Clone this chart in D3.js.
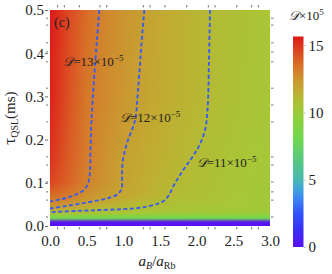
<!DOCTYPE html>
<html>
<head>
<meta charset="utf-8">
<script src="https://cdn.jsdelivr.net/npm/d3@7"></script>
<style>
  body { margin: 0; background: #fff; }
  svg { display: block; font-family: "Liberation Serif", "Times New Roman", serif; }
</style>
</head>
<body>
<div id="chart"></div>
<script>
// grid: D x 10^5 at (a_B/a_Rb, tau_QSL)
const aGrid = [0, 0.25, 0.5, 0.75, 1, 1.25, 1.5, 1.75, 2, 2.25, 2.5, 2.75, 3];
const tauGrid = [0.5, 0.3, 0.2, 0.15, 0.1, 0.07, 0.055, 0.04, 0.03, 0.024, 0.018, 0.009, 0];
const dGrid = [
  [15.6, 14.5, 13.6, 12.9, 12.5, 12.1, 11.75, 11.45, 11.2, 10.95, 10.8, 10.65, 10.5],
  [15.4, 14.3, 13.25, 12.8, 12.4, 11.95, 11.65, 11.4, 11.15, 10.9, 10.75, 10.6, 10.45],
  [15.2, 14.1, 13.2, 12.6, 12.2, 11.8, 11.5, 11.25, 11.0, 10.8, 10.65, 10.5, 10.4],
  [15.0, 14.0, 13.15, 12.55, 12.0, 11.7, 11.4, 11.15, 10.95, 10.75, 10.6, 10.45, 10.35],
  [14.6, 13.8, 13.0, 12.45, 11.95, 11.6, 11.3, 11.0, 10.85, 10.7, 10.55, 10.4, 10.3],
  [13.6, 13.2, 12.6, 12.1, 11.8, 11.5, 11.15, 10.95, 10.8, 10.65, 10.5, 10.4, 10.3],
  [13.0, 12.6, 12.05, 11.7, 11.35, 11.1, 10.9, 10.75, 10.65, 10.55, 10.45, 10.35, 10.25],
  [12.0, 11.7, 11.35, 11.05, 10.9, 10.8, 10.7, 10.6, 10.5, 10.4, 10.35, 10.3, 10.2],
  [10.9, 10.8, 10.7, 10.6, 10.5, 10.45, 10.4, 10.35, 10.3, 10.25, 10.2, 10.15, 10.1],
  [9.3, 9.3, 9.25, 9.25, 9.2, 9.2, 9.15, 9.15, 9.1, 9.1, 9.05, 9.05, 9.0],
  [8.3, 8.3, 8.25, 8.25, 8.2, 8.2, 8.15, 8.15, 8.1, 8.1, 8.05, 8.05, 8.0],
  [0.3, 0.3, 0.3, 0.3, 0.3, 0.3, 0.3, 0.3, 0.3, 0.3, 0.3, 0.3, 0.3],
  [0, 0, 0, 0, 0, 0, 0, 0, 0, 0, 0, 0, 0]
];

// dashed contour lines [a, tau]
const contour13 = [[0.672, 0.5], [0.641, 0.431], [0.600, 0.338], [0.566, 0.245], [0.552, 0.176],
  [0.545, 0.125], [0.525, 0.102], [0.477, 0.086], [0.395, 0.076], [0.300, 0.069], [0.164, 0.0625], [0, 0.057]];
const contour12 = [[1.286, 0.5], [1.241, 0.407], [1.200, 0.315], [1.159, 0.245], [1.050, 0.192],
  [0.995, 0.153], [0.982, 0.118], [0.978, 0.088], [0.927, 0.074], [0.818, 0.066], [0.682, 0.060],
  [0.450, 0.053], [0.205, 0.046], [0, 0.0405]];
const contour11 = [[2.182, 0.5], [2.168, 0.384], [2.148, 0.269], [2.114, 0.222], [2.032, 0.185],
  [1.950, 0.162], [1.855, 0.139], [1.773, 0.118], [1.691, 0.095], [1.623, 0.072], [1.568, 0.060],
  [1.473, 0.052], [1.255, 0.043], [0.995, 0.039], [0.682, 0.037], [0.382, 0.035], [0, 0.032]];
const contourLabels = [
  {text: "13", a: 0.18, tau: 0.371},
  {text: "12", a: 0.955, tau: 0.241},
  {text: "11", a: 2.0, tau: 0.137}
];

const xTicks = [0, 0.5, 1, 1.5, 2, 2.5, 3];
const yTicks = [0, 0.1, 0.2, 0.3, 0.4, 0.5];
const xMinor = [0.105, 0.195, 0.40, 0.682, 0.773, 1.273, 1.364, 1.568, 1.864, 2.159, 2.25, 2.546, 2.75, 2.84];
const yMinor = [0.481, 0.465, 0.424, 0.403, 0.380, 0.319, 0.280, 0.241, 0.160, 0.141, 0.102, 0.079, 0.060, 0.021];
const cbTicks = [0, 5, 10, 15];

// colour map of the bar
const cStops = [0, 1.2, 2.4, 3.5, 4.2, 5, 6.5, 8, 9.5, 10.5, 11.5, 12.5, 13.5, 14.5, 15.65];
const cColors = ["#5c10f0", "#3c2cf8", "#3050ff", "#3c80f5", "#40a0e0", "#48b8b0", "#58c880",
  "#70d850", "#8cd03e", "#a8c636", "#c0ae32", "#cc9430", "#d87028", "#dc4822", "#dc1818"];

const color = d3.scaleLinear().domain(cStops).range(cColors).interpolate(d3.interpolateRgb).clamp(true);

const svg = d3.select("#chart").append("svg")
  .attr("width", 332).attr("height", 274);

const x = d3.scaleLinear().domain([0, 3]).range([50, 270]);
const y = d3.scaleLinear().domain([0, 0.5]).range([226, 10]);

// heat map, colours blended between grid nodes
const W = 220, H = 216;
const cvs = document.createElement("canvas");
cvs.width = W; cvs.height = H;
const ctx = cvs.getContext("2d");
const img = ctx.createImageData(W, H);
const nodeCol = dGrid.map(row => row.map(v => d3.rgb(color(v))));
const aIdx = d3.scaleLinear().domain(aGrid).range(d3.range(aGrid.length)).clamp(true);
const tIdx = d3.scaleLinear().domain(tauGrid).range(d3.range(tauGrid.length)).clamp(true);
for (let py = 0; py < H; py++) {
  const fj = tIdx(y.invert(10 + py + 0.5));
  const j0 = Math.min(Math.floor(fj), tauGrid.length - 2), tj = fj - j0;
  for (let px = 0; px < W; px++) {
    const fi = aIdx(x.invert(50 + px + 0.5));
    const i0 = Math.min(Math.floor(fi), aGrid.length - 2), ti = fi - i0;
    const c00 = nodeCol[j0][i0], c01 = nodeCol[j0][i0 + 1],
          c10 = nodeCol[j0 + 1][i0], c11 = nodeCol[j0 + 1][i0 + 1];
    const k = (py * W + px) * 4;
    ["r", "g", "b"].forEach((ch, n) => {
      const top = c00[ch] * (1 - ti) + c01[ch] * ti;
      const bot = c10[ch] * (1 - ti) + c11[ch] * ti;
      img.data[k + n] = top * (1 - tj) + bot * tj;
    });
    img.data[k + 3] = 255;
  }
}
ctx.putImageData(img, 0, 0);
svg.append("image")
  .attr("x", 50).attr("y", 10).attr("width", W).attr("height", H)
  .attr("preserveAspectRatio", "none")
  .attr("href", cvs.toDataURL());

svg.append("clipPath").attr("id", "plotclip")
  .append("rect").attr("x", 50).attr("y", 10).attr("width", 220).attr("height", 216);

const line = d3.line().x(d => x(d[0])).y(d => y(d[1])).curve(d3.curveCatmullRom);
svg.append("g").attr("clip-path", "url(#plotclip)")
  .selectAll("path")
  .data([contour13, contour12, contour11])
  .enter().append("path")
  .attr("d", line)
  .attr("fill", "none")
  .attr("stroke", "#3a5cf0")
  .attr("stroke-width", 1.9)
  .attr("stroke-dasharray", "4,2.5");

// contour labels
contourLabels.forEach(l => {
  const t = svg.append("text")
    .attr("x", x(l.a)).attr("y", y(l.tau))
    .attr("font-size", 13).attr("fill", "#222");
  t.append("tspan").attr("font-style", "italic").text("\u{1D49F}");
  t.append("tspan").text("=" + l.text + "\u00D710");
  t.append("tspan").attr("font-size", 9).attr("dy", -5).text("\u22125");
});

svg.append("text").attr("x", 54).attr("y", 27).attr("font-size", 14).attr("fill", "#222").text("(c)");

// axes
const xAxis = svg.append("g").attr("transform", "translate(0,226)")
  .call(d3.axisBottom(x).tickValues(xTicks).tickFormat(d3.format(".1f")).tickSize(0).tickPadding(9));
xAxis.select(".domain").remove();
xAxis.selectAll("text").attr("font-size", 15).attr("font-family", "Liberation Serif").attr("fill", "#222");

const yAxis = svg.append("g").attr("transform", "translate(48,0)")
  .call(d3.axisLeft(y).tickValues(yTicks).tickFormat(d3.format(".1f")).tickSize(3).tickPadding(1));
yAxis.select(".domain").remove();
yAxis.selectAll("line").attr("stroke", "#444").attr("stroke-width", 0.8);
yAxis.selectAll("text").attr("font-size", 15).attr("font-family", "Liberation Serif").attr("fill", "#222");

// small frame ticks
const tk = svg.append("g").attr("stroke", "#555").attr("stroke-width", 0.8);
xMinor.forEach(v => {
  tk.append("line").attr("x1", x(v)).attr("x2", x(v)).attr("y1", 227).attr("y2", 229.5);
  tk.append("line").attr("x1", x(v)).attr("x2", x(v)).attr("y1", 5).attr("y2", 7.5);
});
yMinor.forEach(v => {
  tk.append("line").attr("x1", 271).attr("x2", 273.5).attr("y1", y(v)).attr("y2", y(v));
  tk.append("line").attr("x1", 46).attr("x2", 48).attr("y1", y(v)).attr("y2", y(v));
});

// axis titles
const xt = svg.append("text").attr("x", 157).attr("y", 266).attr("text-anchor", "middle")
  .attr("font-size", 15).attr("fill", "#222");
xt.append("tspan").attr("font-style", "italic").text("a");
xt.append("tspan").attr("font-style", "italic").attr("font-size", 10).attr("dy", 3).text("B");
xt.append("tspan").attr("dy", -3).text("/");
xt.append("tspan").attr("font-style", "italic").text("a");
xt.append("tspan").attr("font-size", 10).attr("dy", 3).text("Rb");

const yt = svg.append("text").attr("transform", "translate(15,118) rotate(-90)")
  .attr("text-anchor", "middle").attr("font-size", 15).attr("fill", "#222");
yt.append("tspan").attr("font-size", 17).text("\u03C4");
yt.append("tspan").attr("font-size", 10).attr("dy", 3).text("QSL");
yt.append("tspan").attr("dy", -3).text("(ms)");

// colour bar
const cb = d3.scaleLinear().domain([0, 15.65]).range([247, 36.5]);
const grad = svg.append("defs").append("linearGradient").attr("id", "cbgrad")
  .attr("x1", 0).attr("y1", 1).attr("x2", 0).attr("y2", 0);
grad.selectAll("stop").data(cStops).enter().append("stop")
  .attr("offset", d => d / 15.65)
  .attr("stop-color", d => color(d));
svg.append("rect").attr("x", 293).attr("y", 36.5).attr("width", 10.5).attr("height", 210.5)
  .attr("fill", "url(#cbgrad)");
const cbAxis = svg.append("g").attr("transform", "translate(303.5,0)")
  .call(d3.axisRight(cb).tickValues(cbTicks).tickSize(2).tickPadding(3));
cbAxis.select(".domain").remove();
cbAxis.selectAll("line").attr("stroke", "#bbb");
cbAxis.selectAll("text").attr("font-size", 15).attr("font-family", "Liberation Serif").attr("fill", "#222");

const ct = svg.append("text").attr("x", 289).attr("y", 20).attr("font-size", 13).attr("fill", "#222");
ct.append("tspan").attr("font-style", "italic").text("\u{1D49F}");
ct.append("tspan").text("\u00D710");
ct.append("tspan").attr("font-size", 9).attr("dy", -5).text("5");
</script>
</body>
</html>
